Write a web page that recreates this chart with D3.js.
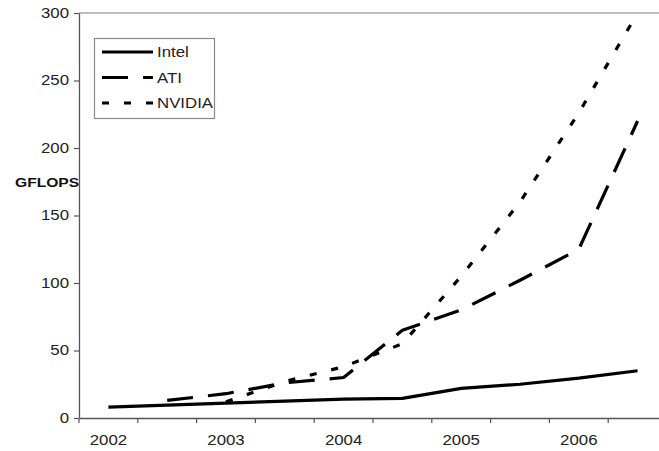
<!DOCTYPE html>
<html>
<head>
<meta charset="utf-8">
<script src="https://cdn.jsdelivr.net/npm/d3@7"></script>
<style>
  html, body { margin: 0; padding: 0; background: #fff; }
  svg { display: block; }
  text { font-family: "Liberation Sans", Arial, sans-serif; }
</style>
</head>
<body>
<script>
// Half-year periods on the category axis
const categories = ["2002 H1", "2002 H2", "2003 H1", "2003 H2", "2004 H1",
                    "2004 H2", "2005 H1", "2005 H2", "2006 H1", "2006 H2"];
const tickLabels = ["2002", "", "2003", "", "2004", "", "2005", "", "2006", ""];
const yTicks = [0, 50, 100, 150, 200, 250, 300];

// Peak GFLOPS per vendor
const intel  = [8, 9.5, 11, 12.5, 14, 14.5, 22, 25, 29.5, 35];
const ati    = [null, 13, 18, 26, 30, 65, 80, 102, 125, 220];
const nvidia = [null, null, 12, 27, 38, 55, 105, 160, 226, 300];

const seriesNames = ["Intel", "ATI", "NVIDIA"];
const seriesValues = [intel, ati, nvidia];
const seriesDash = [null, "26,15", "7,15"];

const W = 659, H = 451;
const STRETCH = 1.2; // text is drawn slightly wide

const svg = d3.select("body").append("svg")
  .attr("width", W).attr("height", H)
  .attr("viewBox", `0 0 ${W} ${H}`);

svg.append("rect").attr("width", W).attr("height", H).attr("fill", "#fff");

const plotLeft = 79, plotTop = 13, plotBottom = 418, plotRight = 667;

const x = d3.scaleBand().domain(categories).range([plotLeft, plotRight]).padding(0);
const y = d3.scaleLinear().domain([0, 300]).range([plotBottom, plotTop]);

// plot area top border
svg.append("line")
  .attr("x1", plotLeft).attr("x2", W)
  .attr("y1", y(300)).attr("y2", y(300))
  .attr("stroke", "#a8a8a8").attr("stroke-width", 1.5);

// y axis
const yAxis = svg.append("g")
  .attr("transform", `translate(${plotLeft},0)`)
  .call(d3.axisLeft(y).tickValues(yTicks).tickSize(5).tickPadding(5).tickSizeOuter(0));
yAxis.select(".domain").attr("stroke", "#555").attr("stroke-width", 1.3);
yAxis.selectAll(".tick line").attr("stroke", "#555").attr("stroke-width", 1.2);
yAxis.selectAll("text")
  .attr("font-size", 14).attr("fill", "#222")
  .attr("font-family", "Liberation Sans, Arial, sans-serif");

// x axis: labels centred on categories, ticks on category boundaries
const xAxis = svg.append("g")
  .attr("transform", `translate(0,${plotBottom})`)
  .call(d3.axisBottom(x)
    .tickSize(0).tickSizeOuter(0).tickPadding(17)
    .tickFormat((d, i) => tickLabels[i]));
xAxis.select(".domain").attr("stroke", "#555").attr("stroke-width", 1.3);
xAxis.selectAll("text")
  .attr("font-size", 14).attr("fill", "#222")
  .attr("font-family", "Liberation Sans, Arial, sans-serif");

svg.append("g").selectAll("line")
  .data(categories)
  .join("line")
  .attr("x1", d => x(d)).attr("x2", d => x(d))
  .attr("y1", plotBottom).attr("y2", plotBottom + 5)
  .attr("stroke", "#555").attr("stroke-width", 1.2);

// y axis title
svg.append("text")
  .attr("x", 15).attr("y", 187)
  .attr("font-size", 13).attr("font-weight", "bold").attr("fill", "#111")
  .text("GFLOPS");

// series lines
const line = d3.line()
  .defined(d => d != null)
  .x((d, i) => x(categories[i]) + x.bandwidth() / 2)
  .y(d => y(d));

svg.append("g").selectAll("path")
  .data(seriesValues)
  .join("path")
  .attr("d", d => line(d))
  .attr("fill", "none")
  .attr("stroke", "#000")
  .attr("stroke-width", 3.2)
  .attr("stroke-linejoin", "round")
  .attr("stroke-dasharray", (d, i) => seriesDash[i]);

// legend
const lg = svg.append("g");
lg.append("rect")
  .attr("x", 94.5).attr("y", 38.5).attr("width", 120).attr("height", 80)
  .attr("fill", "#fff").attr("stroke", "#8a8a8a").attr("stroke-width", 1.2);

const rows = lg.selectAll("g.row")
  .data(seriesNames)
  .join("g")
  .attr("class", "row")
  .attr("transform", (d, i) => `translate(0,${52 + i * 25.5})`);

rows.append("line")
  .attr("x1", 102).attr("x2", 153)
  .attr("y1", 0).attr("y2", 0)
  .attr("stroke", "#000").attr("stroke-width", 3.2)
  .attr("stroke-dasharray", (d, i) => seriesDash[i]);

rows.append("text")
  .attr("x", 157).attr("y", 5)
  .attr("font-size", 14).attr("fill", "#222")
  .text(d => d);

// widen all text horizontally
svg.selectAll("text").each(function () {
  const len = this.getComputedTextLength();
  if (len > 0) {
    d3.select(this)
      .attr("textLength", len * STRETCH)
      .attr("lengthAdjust", "spacingAndGlyphs");
  }
});
</script>
</body>
</html>
